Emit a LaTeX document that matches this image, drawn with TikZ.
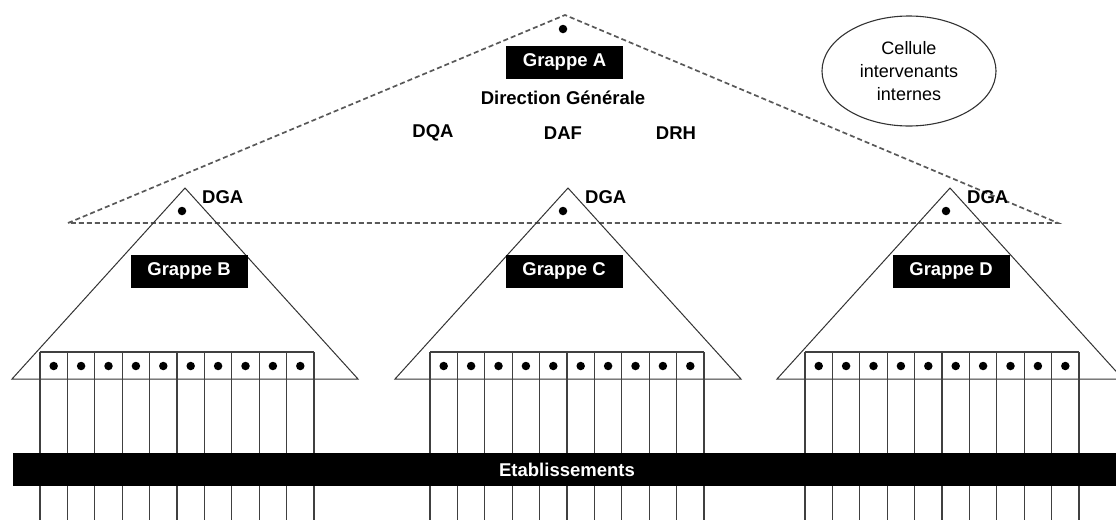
\documentclass[tikz,border=0pt]{standalone}
\usepackage{fontspec}
\setmainfont{Liberation Sans}
\usetikzlibrary{shapes.geometric}
\begin{document}
\begin{tikzpicture}[x=1pt,y=-1pt,
  every node/.style={font=\fontsize{18.5}{23}\selectfont\bfseries, inner sep=0pt},
  grappe/.style={fill=black, text=white, minimum width=117pt, minimum height=33pt},
  outline/.style={draw=black!80, line width=1pt, line join=miter},
  cluster/.style={draw=black!65, line width=1.7pt, dash pattern=on 5pt off 3pt},
  dot/.style={circle, fill=black, minimum size=8.5pt},
  cellline/.style={draw=black!75, line width=1.1pt},
  bubble/.style={ellipse, draw=black!80, line width=1.1pt, minimum width=174pt,
    minimum height=110pt, align=center, font=\fontsize{18}{23}\selectfont}]
\useasboundingbox (0,0) rectangle (1116,520);

% dashed outline of the top-level group
\coordinate (topA) at (565,15);
\coordinate (leftA) at (68,223);
\coordinate (rightA) at (1058,223);
\draw[cluster] (leftA) -- (topA) -- (rightA) -- cycle;

% top-level group content
\node[dot] (dotA) at (563,29) {};
\node[grappe] (grA) at (564.5,62) {Grappe A};
\node (dg) at (563,98) {Direction Générale};
\node (dqa) at (433,133) {DQA};
\node (daf) at (563,133) {DAF};
\node (drh) at (676,133) {DRH};

\node[bubble] (cell) at (909,71) {Cellule\\intervenants\\internes};

% sub-groups: triangle, head, label and row of establishment columns
\foreach \n/\a/\g/\d/\b in {B/185/40/182/189, C/568/430/563/564, D/950/805/946/951}{
  \coordinate (apex\n) at (\a,188);
  \coordinate (bl\n) at (\a-173,379);
  \coordinate (br\n) at (\a+173,379);
  \draw[outline] (bl\n) -- (apex\n) -- (br\n) -- cycle;
  \node[dot] (dot\n) at (\d,211) {};
  \node[anchor=west] (dga\n) at (\a+17,197) {DGA};
  \node[grappe] (gr\n) at (\b,271) {Grappe \n};
  \coordinate (gtl\n) at (\g,352);
  \coordinate (gtr\n) at (\g+274,352);
  \draw[cellline] (gtl\n) -- (gtr\n);
  \foreach \i in {0,...,10}{
    \coordinate (ct\n\i) at (\g+27.4*\i,352);
    \coordinate (cb\n\i) at (\g+27.4*\i,520);
    \draw[cellline] (ct\n\i) -- (cb\n\i);
  }
  \foreach \i in {0,...,9}{
    \node[dot] (cd\n\i) at (\g+13.7+27.4*\i,366) {};
  }
}

% establishments band
\node[fill=black, text=white, minimum width=1103pt, minimum height=33pt] (etab) at (564.5,469.5) {};
\node[text=white] (etabtxt) at (567,469.5) {Etablissements};
\end{tikzpicture}
\end{document}
